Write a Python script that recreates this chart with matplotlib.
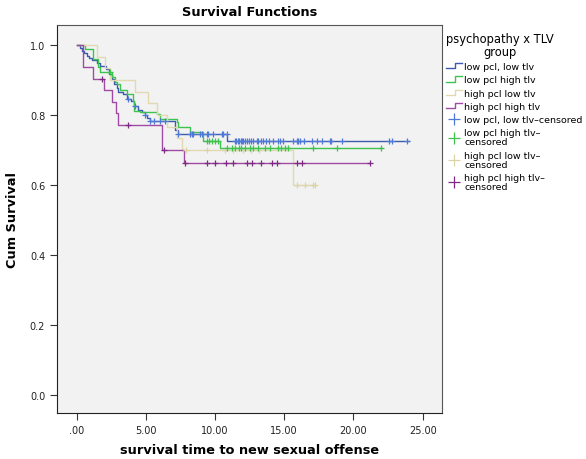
import matplotlib
matplotlib.use("Agg")
import matplotlib.pyplot as plt
from matplotlib.lines import Line2D
from matplotlib.legend_handler import HandlerBase

# survival steps (time, cum survival)
blue_t = [0, 0.25, 0.37, 0.54, 0.73, 0.93, 1.09, 1.46, 1.70, 2.13, 2.37, 2.54, 2.73, 2.90, 3.02,
          3.38, 3.62, 3.91, 4.15, 4.47, 4.70, 4.94, 5.11, 5.31, 7.11, 7.35, 10.85]
blue_s = [1.0, 0.992, 0.984, 0.976, 0.968, 0.962, 0.958, 0.948, 0.941, 0.931, 0.917, 0.903, 0.889,
          0.876, 0.865, 0.860, 0.846, 0.841, 0.825, 0.815, 0.808, 0.800, 0.790, 0.782, 0.758, 0.745, 0.727]
blue_cens = [3.74, 4.22, 4.94, 5.31, 5.6, 6.03, 6.39, 7.35, 8.19, 8.31, 8.43, 8.92, 9.04, 9.4, 9.52,
             9.88, 10.48, 10.6, 10.84, 11.45, 11.55, 11.65, 11.75, 11.85, 11.95, 12.05, 12.2, 12.3,
             12.45, 12.6, 12.75, 13.0, 13.1, 13.3, 13.5, 13.7, 13.9, 14.2, 14.57, 14.7, 14.93, 15.65,
             15.9, 16.0, 16.14, 16.43, 16.98, 17.34, 17.7, 18.3, 18.4, 19.15, 22.6, 22.76, 23.84]
blue_end = 24.0

green_t = [0, 0.61, 1.21, 1.58, 1.70, 2.54, 2.78, 2.90, 3.14, 3.62, 4.10, 4.15, 4.58, 5.79, 6.03,
           7.23, 7.35, 8.19, 9.16, 10.36]
green_s = [1.0, 0.988, 0.960, 0.936, 0.922, 0.908, 0.893, 0.889, 0.870, 0.860, 0.841, 0.812, 0.809,
           0.803, 0.788, 0.779, 0.765, 0.752, 0.725, 0.705]
green_cens = [2.4, 9.4, 9.6, 9.8, 10.0, 10.2, 10.9, 11.2, 11.45, 11.7, 11.9, 12.2, 12.5, 12.75, 13.1,
              13.6, 13.97, 14.55, 14.8, 15.05, 15.3, 17.1, 18.8, 22.0]
green_end = 22.1

tan_t = [0, 1.46, 2.06, 2.42, 4.22, 5.19, 5.79, 6.51, 7.23, 7.59, 15.65]
tan_s = [1.0, 0.967, 0.933, 0.90, 0.867, 0.833, 0.80, 0.767, 0.733, 0.70, 0.60]
tan_cens = [7.9, 9.4, 10.7, 11.3, 12.0, 12.6, 13.2, 15.9, 16.5, 17.1, 17.2]
tan_end = 17.2

purple_t = [0, 0.49, 1.21, 2.0, 2.54, 2.85, 3.02, 6.15, 7.79]
purple_s = [1.0, 0.936, 0.903, 0.871, 0.838, 0.806, 0.770, 0.701, 0.662]
purple_cens = [1.82, 3.74, 6.3, 7.84, 9.4, 10.0, 10.8, 11.3, 12.3, 12.65, 13.3, 14.1, 14.45, 15.9,
               16.3, 21.2]
purple_end = 21.2

labels = ["low pcl, low tlv", "low pcl high tlv", "high pcl low tlv", "high pcl high tlv"]
cens_labels = ["low pcl, low tlv\u2013censored", "low pcl high tlv\u2013\ncensored",
               "high pcl low tlv\u2013\ncensored", "high pcl high tlv\u2013\ncensored"]
x_ticks = [0, 5, 10, 15, 20, 25]
x_ticklabels = [".00", "5.00", "10.00", "15.00", "20.00", "25.00"]
y_ticks = [0.0, 0.2, 0.4, 0.6, 0.8, 1.0]

line_colors = ["#3d5aae", "#3ec34f", "#e2d9b0", "#a04aa3"]
cens_colors = ["#4f79d6", "#3dc24d", "#dcd4a6", "#7d2a82"]


def survival_at(t, times, surv):
    s = surv[0]
    for ti, si in zip(times, surv):
        if ti <= t:
            s = si
    return s


class StepHandler(HandlerBase):
    def create_artists(self, legend, orig_handle, xdescent, ydescent, width, height, fontsize, trans):
        x0 = -xdescent
        xs = [x0, x0 + width * 0.55, x0 + width * 0.55, x0 + width]
        ys = [-ydescent + 0.1 * height, -ydescent + 0.1 * height,
              -ydescent + 0.9 * height, -ydescent + 0.9 * height]
        ln = Line2D(xs, ys, color=orig_handle.get_color(), lw=1.0, transform=trans)
        return [ln]


fig = plt.figure(figsize=(5.86, 4.6), dpi=100)
ax = fig.add_axes([0.0973, 0.1, 0.657, 0.8435])
ax.set_facecolor("#f2f2f2")

groups = [
    (blue_t, blue_s, blue_cens, blue_end),
    (green_t, green_s, green_cens, green_end),
    (tan_t, tan_s, tan_cens, tan_end),
    (purple_t, purple_s, purple_cens, purple_end),
]

# draw order: tan below, then the rest
for i in [2, 1, 0, 3]:
    times, surv, cens, end = groups[i]
    ax.step(times + [end], surv + [surv[-1]], where="post", color=line_colors[i], lw=1.0, zorder=2 + i * 0.1)
    ys = [survival_at(c, times, surv) for c in cens]
    ax.plot(cens, ys, ls="none", marker="+", ms=5, mew=0.9, color=cens_colors[i], zorder=3)

ax.set_xlim(-1.41, 26.4)
ax.set_ylim(-0.051, 1.057)
ax.set_xticks(x_ticks)
ax.set_xticklabels(x_ticklabels)
ax.set_yticks(y_ticks)
ax.set_yticklabels(["%.1f" % v for v in y_ticks])
ax.tick_params(labelsize=7, length=5, width=0.8, color="#333333", labelcolor="#222222")
for sp in ax.spines.values():
    sp.set_color("#555555")
    sp.set_linewidth(0.8)
for sp in ["left", "bottom"]:
    ax.spines[sp].set_color("#222222")

ax.set_title("Survival Functions", fontsize=9.4, fontweight="bold", pad=7)
ax.set_xlabel("survival time to new sexual offense", fontsize=9.3, fontweight="bold", labelpad=6)
ax.set_ylabel("Cum Survival", fontsize=9.3, fontweight="bold", labelpad=8)

handles = [Line2D([], [], color=c) for c in line_colors]
cens_handles = [Line2D([], [], ls="none", marker="+", ms=8, mew=0.9, color=c) for c in cens_colors]

leg = fig.legend(handles + cens_handles, labels + cens_labels,
                 handler_map={h: StepHandler() for h in handles},
                 loc="upper left", bbox_to_anchor=(0.748, 0.945), frameon=False,
                 fontsize=6.8, title="psychopathy x TLV\ngroup", title_fontsize=8.3,
                 handlelength=1.7, handletextpad=0.25, labelspacing=0.45, borderpad=0.3)
leg._legend_box.align = "left"
leg.get_title().set_multialignment("center")
leg.get_title().set_linespacing(1.0)
for txt in leg.get_texts():
    txt.set_linespacing(1.0)

fig.savefig("out.png", dpi=100)
